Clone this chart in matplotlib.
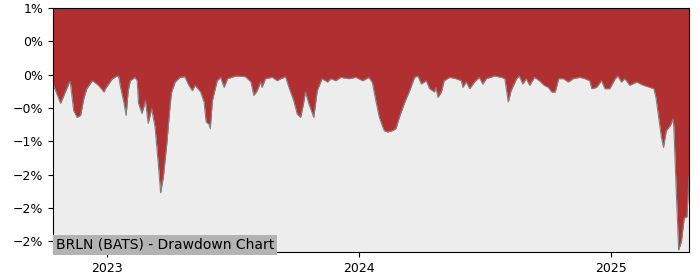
import matplotlib
matplotlib.use("Agg")
import matplotlib.pyplot as plt
import matplotlib.dates as mdates
import pandas as pd
from matplotlib.ticker import PercentFormatter

TICKER = "BRLN (BATS)"

# drawdown in percent
dates = [
    "2022-10-15", "2022-10-26", "2022-11-07", "2022-11-09", "2022-11-14", "2022-11-19",
    "2022-11-24", "2022-11-29", "2022-12-03", "2022-12-11", "2022-12-20", "2022-12-28",
    "2022-12-30", "2023-01-09", "2023-01-16", "2023-01-18", "2023-01-21", "2023-01-26",
    "2023-01-29", "2023-02-01", "2023-02-04", "2023-02-11", "2023-02-14", "2023-02-16",
    "2023-02-21", "2023-02-26", "2023-03-02", "2023-03-07", "2023-03-12", "2023-03-17",
    "2023-03-20", "2023-03-24", "2023-03-29", "2023-04-03", "2023-04-05", "2023-04-10",
    "2023-04-17", "2023-04-24", "2023-04-30", "2023-05-05", "2023-05-09", "2023-05-17",
    "2023-05-22", "2023-05-25", "2023-05-29", "2023-05-31", "2023-06-03", "2023-06-10",
    "2023-06-15", "2023-06-20", "2023-06-25", "2023-07-07", "2023-07-21", "2023-07-29",
    "2023-08-02", "2023-08-07", "2023-08-12", "2023-08-14", "2023-08-19", "2023-08-29",
    "2023-09-05", "2023-09-10", "2023-09-17", "2023-09-22", "2023-09-29", "2023-10-04",
    "2023-10-09", "2023-10-13", "2023-10-16", "2023-10-21", "2023-10-28", "2023-11-02",
    "2023-11-09", "2023-11-17", "2023-11-22", "2023-11-29", "2023-12-06", "2023-12-18",
    "2023-12-28", "2024-01-07", "2024-01-16", "2024-01-21", "2024-01-26", "2024-01-31",
    "2024-02-07", "2024-02-12", "2024-02-19", "2024-02-24", "2024-02-29", "2024-03-08",
    "2024-03-15", "2024-03-22", "2024-03-27", "2024-04-01", "2024-04-08", "2024-04-13",
    "2024-04-20", "2024-04-22", "2024-04-25", "2024-04-30", "2024-05-04", "2024-05-12",
    "2024-05-21", "2024-05-29", "2024-05-31", "2024-06-05", "2024-06-10", "2024-06-17",
    "2024-06-24", "2024-06-29", "2024-07-04", "2024-07-16", "2024-07-26", "2024-07-31",
    "2024-08-05", "2024-08-09", "2024-08-17", "2024-08-21", "2024-08-26", "2024-08-31",
    "2024-09-05", "2024-09-12", "2024-09-19", "2024-09-26", "2024-10-02", "2024-10-07",
    "2024-10-12", "2024-10-17", "2024-10-24", "2024-10-31", "2024-11-07", "2024-11-17",
    "2024-11-24", "2024-12-01", "2024-12-04", "2024-12-11", "2024-12-18", "2024-12-23",
    "2024-12-30", "2025-01-07", "2025-01-11", "2025-01-16", "2025-01-21", "2025-01-28",
    "2025-02-07", "2025-02-17", "2025-02-26", "2025-03-04", "2025-03-07", "2025-03-11",
    "2025-03-15", "2025-03-18", "2025-03-22", "2025-03-28", "2025-04-01", "2025-04-02",
    "2025-04-06", "2025-04-09", "2025-04-13", "2025-04-17", "2025-04-21", "2025-04-24",
]
drawdown = [
    -0.14, -0.43, -0.13, -0.10, -0.54, -0.64,
    -0.61, -0.34, -0.21, -0.09, -0.16, -0.26,
    -0.21, -0.06, -0.02, -0.02, -0.19, -0.43,
    -0.61, -0.24, -0.09, -0.04, -0.09, -0.43,
    -0.58, -0.39, -0.73, -0.51, -0.79, -1.38,
    -1.77, -1.53, -1.03, -0.43, -0.26, -0.11,
    -0.04, -0.03, -0.16, -0.24, -0.16, -0.26,
    -0.41, -0.71, -0.74, -0.81, -0.39, -0.09,
    -0.04, -0.19, -0.06, -0.02, -0.03, -0.11,
    -0.31, -0.24, -0.11, -0.19, -0.06, -0.04,
    -0.09, -0.06, -0.03, -0.19, -0.39, -0.59,
    -0.64, -0.44, -0.26, -0.44, -0.64, -0.24,
    -0.06, -0.11, -0.06, -0.09, -0.04, -0.06,
    -0.04, -0.09, -0.04, -0.12, -0.39, -0.64,
    -0.84, -0.86, -0.84, -0.81, -0.64, -0.41,
    -0.24, -0.04, -0.02, -0.14, -0.09, -0.21,
    -0.26, -0.19, -0.34, -0.26, -0.09, -0.04,
    -0.06, -0.09, -0.19, -0.11, -0.21, -0.11,
    -0.04, -0.14, -0.06, -0.02, -0.04, -0.06,
    -0.41, -0.24, -0.06, -0.02, -0.14, -0.06,
    -0.16, -0.04, -0.09, -0.16, -0.19, -0.26,
    -0.26, -0.06, -0.06, -0.11, -0.06, -0.04,
    -0.06, -0.09, -0.21, -0.19, -0.09, -0.21,
    -0.21, -0.06, -0.02, -0.11, -0.06, -0.16,
    -0.11, -0.16, -0.19, -0.21, -0.34, -0.64,
    -0.94, -1.09, -0.84, -0.76, -0.66, -0.79,
    -1.88, -2.63, -2.50, -2.15, -2.13, -1.53,
]
y_ticks = [1.0, 0.5, 0.0, -0.5, -1.0, -1.5, -2.0, -2.5]

x = pd.to_datetime(dates)
y_top = 1.0

fig = plt.figure(figsize=(7, 2.8), dpi=100)
ax = fig.add_axes([0.0757, 0.1, 0.9086, 0.8714])
ax.set_facecolor("#ededed")

ax.fill_between(x, drawdown, y_top, color="#b03031", linewidth=0)
ax.plot(x, drawdown, color="#808080", linewidth=0.8)

ax.set_xlim(x[0], x[-1])
ax.set_ylim(-2.66, y_top)
ax.set_yticks(y_ticks)
ax.yaxis.set_major_formatter(PercentFormatter(xmax=100, decimals=0))
ax.xaxis.set_major_locator(mdates.YearLocator())
ax.xaxis.set_major_formatter(mdates.DateFormatter("%Y"))
ax.tick_params(labelsize=9)

ax.text(0.005, 0.0, f"{TICKER} - Drawdown Chart", transform=ax.transAxes,
        fontsize=10, ha="left", va="bottom",
        bbox=dict(facecolor="#b3b3b3", edgecolor="none", pad=2))

fig.savefig("out.png")
